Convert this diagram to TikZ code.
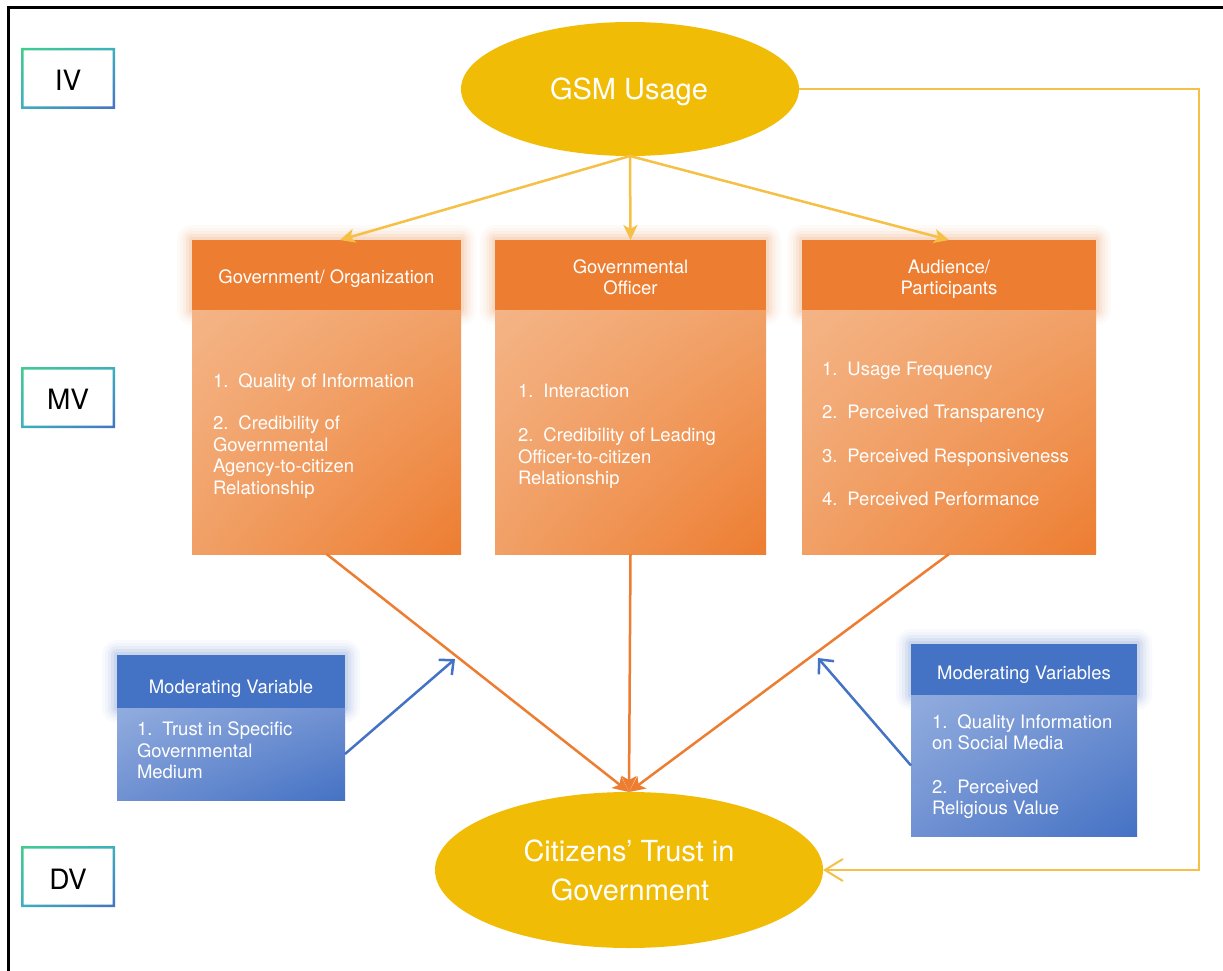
\documentclass[tikz,border=0pt]{standalone}
\usepackage{fontspec}
\setmainfont{TeX Gyre Heros}
\usetikzlibrary{arrows.meta,shapes.geometric,calc,shadings}
\definecolor{gold}{RGB}{241,188,6}
\definecolor{goldline}{RGB}{246,192,70}
\definecolor{org}{RGB}{237,125,49}
\definecolor{orglight}{RGB}{244,180,134}
\definecolor{orgmid}{RGB}{241,160,102}
\definecolor{blu}{RGB}{68,114,196}
\definecolor{blulight}{RGB}{145,172,222}
\definecolor{blumid}{RGB}{112,145,210}
\definecolor{grn}{RGB}{66,204,140}
\definecolor{tealc}{RGB}{62,175,190}
\newcommand\myglow[2]{%
  \foreach \d/\o in {3/0.10,6/0.08,9/0.06,12/0.04,15/0.03}{%
    \fill[#2,opacity=\o,rounded corners=\d pt] ($(#1.north west)+(-\d,-\d)$) rectangle ($(#1.south east)+(\d,\d)$);}}
\newcommand\lvlborder[1]{%
  \path[shade,upper left=grn,lower right=blu,upper right=tealc,lower left=tealc,even odd rule]
    (#1.north west) rectangle (#1.south east)
    ($(#1.north west)+(2.5,2.5)$) rectangle ($(#1.south east)+(-2.5,-2.5)$);}
\newcommand\itm[1]{#1.\hspace{10pt}}
\begin{document}
\begin{tikzpicture}[x=1pt,y=-1pt,
  every node/.style={inner sep=0pt,outer sep=0pt},
  lvl/.style={rectangle,anchor=north west,minimum width=94pt,minimum height=61pt},
  lvltxt/.style={anchor=base,font=\fontsize{28}{34}\selectfont,text=black},
  ell/.style={ellipse,fill=gold,draw=none},
  ttl/.style={anchor=base,text=white,font=\fontsize{29}{35}\selectfont},
  ohdr/.style={rectangle,anchor=north west,fill=org,minimum height=70pt},
  obody/.style={rectangle,anchor=north west,shade,upper left=orglight,upper right=orgmid,lower left=orgmid,lower right=org,minimum height=244pt},
  bhdr/.style={rectangle,anchor=north west,fill=blu},
  bbody/.style={rectangle,anchor=north west,shade,upper left=blulight,upper right=blumid,lower left=blumid,lower right=blu},
  ht/.style={anchor=base,text=white,font=\fontsize{18.5}{21.5}\selectfont},
  bt/.style={anchor=base west,text=white,font=\fontsize{18.5}{21.5}\selectfont},
  yarrow/.style={draw=goldline,line width=2.5pt,-{Stealth[length=15pt,width=14pt,inset=4pt]}},
  yloop/.style={draw=goldline,line width=2.5pt,-{Straight Barb[length=18pt,width=22pt,line width=2pt]}},
  oarrow/.style={draw=org,line width=2.5pt,-{Stealth[length=16pt,width=15pt,inset=4pt]}},
  barrow/.style={draw=blu,line width=2.5pt,-{Straight Barb[length=11pt,width=20pt,line width=2.5pt]}}
]
\useasboundingbox (0,0) rectangle (1223,971);
\fill[white] (0,0) rectangle (1223,971);
% frame
\draw[line width=3pt] (8,975) -- (8,8) -- (1230,8);

% level boxes
\node[lvl] (iv) at (21,48) {};
\lvlborder{iv}
\node[lvltxt] (ivt) at (68,90.5) {IV};
\node[lvl] (mv) at (21,367) {};
\lvlborder{mv}
\node[lvltxt] (mvt) at (68,409.5) {MV};
\node[lvl] (dv) at (21,846) {};
\lvlborder{dv}
\node[lvltxt] (dvt) at (68,889.5) {DV};

% ellipses
\node[ell,minimum width=338pt,minimum height=134pt] (gsm) at (630,89) {};
\node[ttl] (gsmt) at (629,99.3) {GSM Usage};
\node[ell,minimum width=388pt,minimum height=156pt] (cit) at (629,870) {};
\node[ttl] (cit1) at (629,861) {Citizens’ Trust in};
\node[ttl] (cit2) at (630,900) {Government};

% orange boxes
\node[ohdr,minimum width=269pt] (h1) at (192,240) {};
\node[ohdr,minimum width=271pt] (h2) at (495,240) {};
\node[ohdr,minimum width=294pt] (h3) at (802,240) {};
\myglow{h1}{org}
\myglow{h2}{org}
\myglow{h3}{org}
\node[obody,minimum width=269pt] (b1) at (192,310) {};
\node[obody,minimum width=271pt] (b2) at (495,310) {};
\node[obody,minimum width=294pt] (b3) at (802,310) {};
\node[ohdr,minimum width=269pt] at (192,240) {};
\node[ohdr,minimum width=271pt] at (495,240) {};
\node[ohdr,minimum width=294pt] at (802,240) {};

\node[ht] (h1a) at (326.5,283) {Government/ Organization};
\node[ht] (h2a) at (630.5,273) {Governmental};
\node[ht] (h2b) at (630.5,294) {Officer};
\node[ht] (h3a) at (949,273) {Audience/};
\node[ht] (h3b) at (949,294) {Participants};

\node[bt] (b1a) at (213,387) {\itm{1}Quality of Information};
\node[bt] (b1b) at (213,429) {\itm{2}Credibility of};
\node[bt] (b1c) at (213,451) {Governmental};
\node[bt] (b1d) at (213,472) {Agency-to-citizen};
\node[bt] (b1e) at (213,494) {Relationship};

\node[bt] (b2a) at (518,397) {\itm{1}Interaction};
\node[bt] (b2b) at (518,441) {\itm{2}Credibility of Leading};
\node[bt] (b2c) at (518,463) {Officer-to-citizen};
\node[bt] (b2d) at (518,484) {Relationship};

\node[bt] (b3a) at (822,375) {\itm{1}Usage Frequency};
\node[bt] (b3b) at (822,418) {\itm{2}Perceived Transparency};
\node[bt] (b3c) at (822,462) {\itm{3}Perceived Responsiveness};
\node[bt] (b3d) at (822,505) {\itm{4}Perceived Performance};

% blue boxes
\node[bhdr,minimum width=228pt,minimum height=53pt] (mlh) at (117,655) {};
\node[bhdr,minimum width=226pt,minimum height=51pt] (mrh) at (911,644) {};
\myglow{mlh}{blu}
\myglow{mrh}{blu}
\node[bbody,minimum width=228pt,minimum height=92pt] (ml) at (117,708) {};
\node[bbody,minimum width=226pt,minimum height=141pt] (mr) at (911,695) {};
\node[bhdr,minimum width=228pt,minimum height=53pt] at (117,655) {};
\node[bhdr,minimum width=226pt,minimum height=51pt] at (911,644) {};

\node[ht] (mlt) at (231,693) {Moderating Variable};
\node[bt] (ml1) at (137,735) {\itm{1}Trust in Specific};
\node[bt] (ml2) at (137,757) {Governmental};
\node[bt] (ml3) at (137,778) {Medium};

\node[ht] (mrt) at (1024,679) {Moderating Variables};
\node[bt] (mr1) at (932,728) {\itm{1}Quality Information};
\node[bt] (mr2) at (932,749) {on Social Media};
\node[bt] (mr3) at (932,793) {\itm{2}Perceived};
\node[bt] (mr4) at (932,814) {Religious Value};

% connectors
\coordinate (t1) at (340,240);
\draw[yarrow] (gsm.south) -- (t1);
\draw[yarrow] (gsm.south) -- (h2.north);
\draw[yarrow] (gsm.south) -- (h3.north);
\coordinate (c1) at (1199,89);
\coordinate (c2) at (1199,870);
\draw[yloop] (gsm.east) -- (c1) -- (c2) -- (cit.east);

\draw[oarrow] (b1.south) -- (cit.north);
\draw[oarrow] (b2.south) -- (cit.north);
\draw[oarrow] (b3.south) -- (cit.north);

\coordinate (m1) at (455,659);
\coordinate (m2) at (818,658);
\draw[barrow] (ml.east) -- (m1);
\draw[barrow] (mr.west) -- (m2);
\end{tikzpicture}
\end{document}
